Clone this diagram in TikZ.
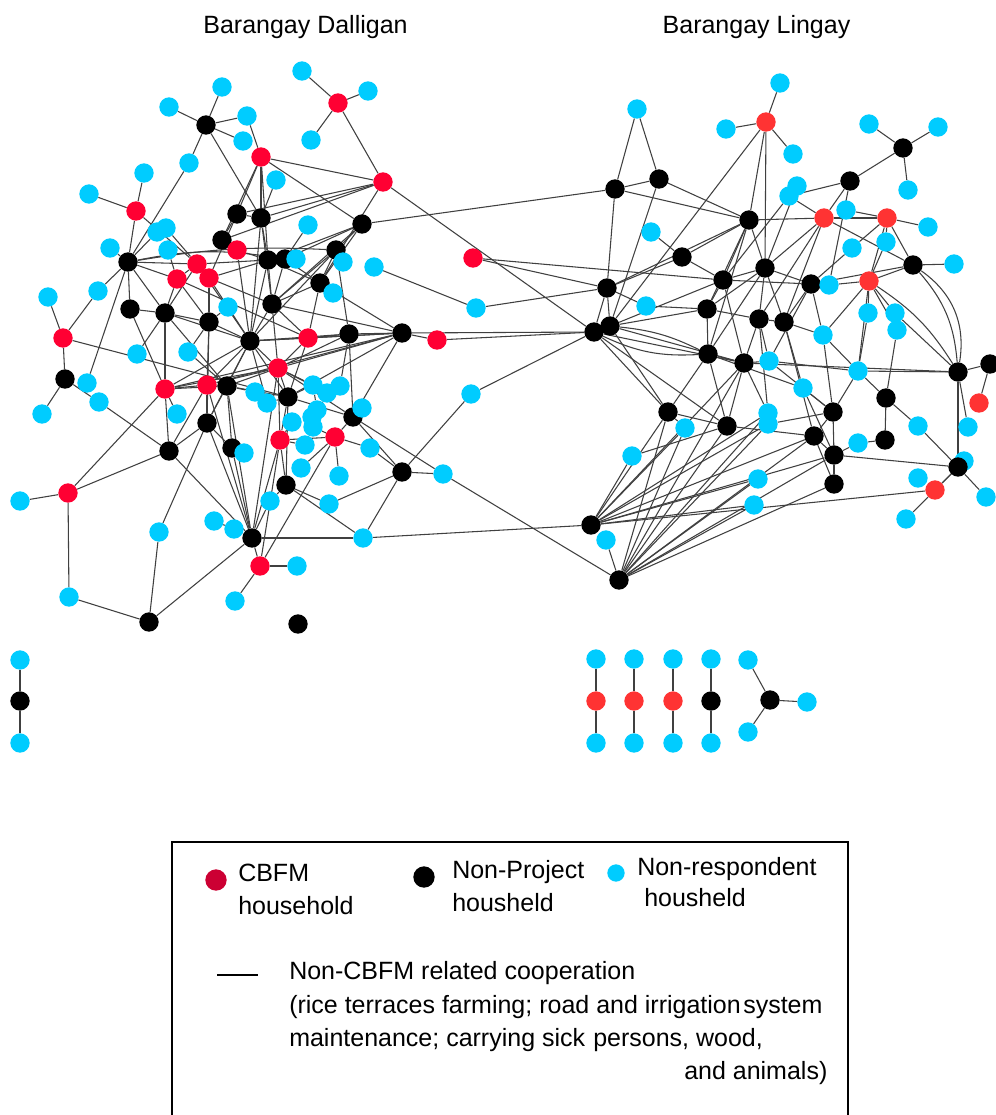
\documentclass[tikz,border=0pt]{standalone}
\usepackage{fontspec}
\setmainfont{Liberation Sans}
\usetikzlibrary{backgrounds}
\definecolor{cyn}{HTML}{00CCFF}
\definecolor{redA}{HTML}{FF0033}
\definecolor{redB}{HTML}{FF3333}
\definecolor{redL}{HTML}{CC0033}
\definecolor{edgegray}{HTML}{404040}
\tikzset{
  hh/.style={circle, minimum size=14.5pt, inner sep=0pt, draw=none},
  cy/.style={hh, fill=cyn},
  rd/.style={hh, fill=redA},
  rb/.style={hh, fill=redB},
  bk/.style={hh, fill=black},
  edge/.style={draw=edgegray, line width=0.8pt},
  lbl/.style={font=\fontsize{18.75pt}{22pt}\selectfont, inner sep=0pt, anchor=base west},
  ttl/.style={font=\fontsize{18.75pt}{22pt}\selectfont, inner sep=0pt, anchor=base}
}
\begin{document}
\begin{tikzpicture}[x=0.75pt,y=-0.75pt]
\useasboundingbox (0,0) rectangle (996,1115);

% titles
\node[ttl] (t1) at (305.5,33) {Barangay Dalligan};
\node[ttl] (t2) at (756.5,33) {Barangay Lingay};

% ---------- Dalligan households ----------
\node[cy] (L1) at (302,71) {};
\node[rd] (L2) at (338,103) {};
\node[cy] (L3) at (368,91) {};
\node[cy] (L4) at (311,140) {};
\node[cy] (L5) at (169,107) {};
\node[cy] (L6) at (222,87) {};
\node[bk] (L7) at (206,125) {};
\node[cy] (L8) at (247,116) {};
\node[cy] (L9) at (243,141) {};
\node[rd] (L10) at (261,157) {};
\node[cy] (L11) at (189,163) {};
\node[cy] (L12) at (144,173) {};
\node[cy] (L13) at (89,194) {};
\node[rd] (L14) at (136,211) {};
\node[cy] (L15) at (276,180) {};
\node[rd] (L16) at (383,182) {};
\node[bk] (L17) at (237,214) {};
\node[bk] (L18) at (261,218) {};
\node[cy] (L19) at (308,225) {};
\node[bk] (L20) at (362,224) {};
\node[cy] (L21) at (157,232) {};
\node[cy] (L22) at (166,228) {};
\node[bk] (L23) at (222,240) {};
\node[rd] (L24) at (237,250) {};
\node[cy] (L25) at (110,248) {};
\node[cy] (L26) at (168,250) {};
\node[bk] (L27) at (128,262) {};
\node[rd] (L28) at (197,264) {};
\node[rd] (L29) at (177,279) {};
\node[rd] (L30) at (209,278) {};
\node[bk] (L31) at (268,260) {};
\node[bk] (L32) at (285,259) {};
\node[cy] (L33) at (296,259) {};
\node[bk] (L34) at (336,250) {};
\node[cy] (L35) at (343,262) {};
\node[cy] (L36) at (374,267) {};
\node[bk] (L37) at (320,283) {};
\node[cy] (L38) at (333,293) {};
\node[cy] (L39) at (98,291) {};
\node[cy] (L40) at (48,297) {};
\node[bk] (L41) at (130,309) {};
\node[bk] (L42) at (165,313) {};
\node[cy] (L43) at (228,307) {};
\node[bk] (L44) at (272,304) {};
\node[bk] (L45) at (209,322) {};
\node[bk] (L46) at (250,341) {};
\node[rd] (L47) at (308,338) {};
\node[bk] (L48) at (349,334) {};
\node[bk] (L49) at (402,333) {};
\node[rd] (L50) at (437,340) {};
\node[rd] (L51) at (63,338) {};
\node[cy] (L52) at (137,354) {};
\node[cy] (L53) at (188,352) {};
\node[bk] (L54) at (65,379) {};
\node[cy] (L55) at (87,383) {};
\node[cy] (L56) at (99,402) {};
\node[rd] (L57) at (165,389) {};
\node[rd] (L58) at (207,385) {};
\node[bk] (L59) at (227,386) {};
\node[rd] (L60) at (278,368) {};
\node[cy] (L61) at (255,392) {};
\node[cy] (L62) at (267,403) {};
\node[bk] (L63) at (288,397) {};
\node[cy] (L64) at (313,385) {};
\node[cy] (L65) at (327,393) {};
\node[cy] (L66) at (340,386) {};
\node[cy] (L67) at (317,410) {};
\node[cy] (L68) at (312,417) {};
\node[bk] (L69) at (353,417) {};
\node[cy] (L70) at (362,408) {};
\node[cy] (L71) at (42,414) {};
\node[cy] (L72) at (177,414) {};
\node[bk] (L73) at (207,423) {};
\node[cy] (L74) at (292,422) {};
\node[cy] (L75) at (313,427) {};
\node[rd] (L76) at (280,440) {};
\node[rd] (L77) at (335,437) {};
\node[cy] (L78) at (305,445) {};
\node[bk] (L79) at (169,451) {};
\node[bk] (L80) at (232,448) {};
\node[cy] (L81) at (244,453) {};
\node[cy] (L82) at (301,468) {};
\node[cy] (L83) at (339,476) {};
\node[cy] (L84) at (370,448) {};
\node[bk] (L85) at (402,472) {};
\node[cy] (L86) at (443,474) {};
\node[bk] (L87) at (286,485) {};
\node[rd] (L88) at (68,493) {};
\node[cy] (L89) at (20,501) {};
\node[cy] (L90) at (270,501) {};
\node[cy] (L91) at (329,504) {};
\node[cy] (L92) at (214,521) {};
\node[cy] (L93) at (234,529) {};
\node[bk] (L94) at (252,538) {};
\node[cy] (L95) at (159,532) {};
\node[cy] (L96) at (363,538) {};
\node[rd] (L97) at (260,566) {};
\node[cy] (L98) at (297,566) {};
\node[cy] (L99) at (69,597) {};
\node[bk] (L100) at (149,622) {};
\node[cy] (L101) at (235,601) {};
\node[bk] (L102) at (298,624) {};

% ---------- between the two barangays ----------
\node[rd] (M1) at (473,258) {};
\node[cy] (M2) at (476,308) {};
\node[cy] (M3) at (471,394) {};

% ---------- Lingay households ----------
\node[cy] (R1) at (637,109) {};
\node[bk] (R2) at (615,189) {};
\node[bk] (R3) at (659,179) {};
\node[cy] (R4) at (651,232) {};
\node[bk] (R5) at (682,257) {};
\node[cy] (R6) at (780,83) {};
\node[rb] (R7) at (766,122) {};
\node[cy] (R8) at (726,129) {};
\node[cy] (R9) at (793,154) {};
\node[cy] (R10) at (869,124) {};
\node[cy] (R11) at (938,127) {};
\node[bk] (R12) at (903,148) {};
\node[cy] (R13) at (908,190) {};
\node[bk] (R14) at (850,181) {};
\node[cy] (R15) at (797,186) {};
\node[cy] (R16) at (789,196) {};
\node[bk] (R17) at (749,220) {};
\node[rb] (R18) at (824,218) {};
\node[cy] (R19) at (846,210) {};
\node[rb] (R20) at (887,218) {};
\node[cy] (R21) at (928,227) {};
\node[cy] (R22) at (852,248) {};
\node[cy] (R23) at (886,242) {};
\node[bk] (R24) at (913,265) {};
\node[cy] (R25) at (954,264) {};
\node[rb] (R26) at (869,281) {};
\node[bk] (R27) at (765,268) {};
\node[bk] (R28) at (723,280) {};
\node[bk] (R29) at (811,284) {};
\node[cy] (R30) at (829,285) {};
\node[cy] (R31) at (868,313) {};
\node[cy] (R32) at (895,313) {};
\node[cy] (R33) at (897,330) {};
\node[bk] (R34) at (607,288) {};
\node[cy] (R35) at (646,306) {};
\node[bk] (R36) at (707,309) {};
\node[bk] (R37) at (594,332) {};
\node[bk] (R38) at (610,326) {};
\node[bk] (R39) at (759,319) {};
\node[bk] (R40) at (784,322) {};
\node[cy] (R41) at (823,335) {};
\node[bk] (R42) at (708,354) {};
\node[bk] (R43) at (744,363) {};
\node[cy] (R44) at (769,361) {};
\node[cy] (R45) at (858,371) {};
\node[cy] (R46) at (803,388) {};
\node[bk] (R47) at (958,372) {};
\node[bk] (R48) at (990,364) {};
\node[rb] (R49) at (979,403) {};
\node[bk] (R50) at (886,398) {};
\node[bk] (R51) at (833,412) {};
\node[cy] (R52) at (768,413) {};
\node[cy] (R53) at (768,424) {};
\node[bk] (R54) at (727,426) {};
\node[bk] (R55) at (814,436) {};
\node[cy] (R56) at (918,426) {};
\node[cy] (R57) at (968,427) {};
\node[bk] (R58) at (885,440) {};
\node[cy] (R59) at (858,443) {};
\node[bk] (R60) at (668,412) {};
\node[cy] (R61) at (685,428) {};
\node[cy] (R62) at (632,456) {};
\node[bk] (R63) at (834,455) {};
\node[cy] (R64) at (964,461) {};
\node[bk] (R65) at (958,467) {};
\node[cy] (R66) at (758,479) {};
\node[cy] (R67) at (754,505) {};
\node[bk] (R68) at (834,484) {};
\node[cy] (R69) at (918,478) {};
\node[rb] (R70) at (935,490) {};
\node[cy] (R71) at (986,497) {};
\node[cy] (R72) at (906,519) {};
\node[bk] (R73) at (591,525) {};
\node[cy] (R74) at (606,540) {};
\node[bk] (R75) at (619,580) {};

% ---------- small separate groups ----------
\node[cy] (B1) at (20,660) {};
\node[bk] (B2) at (20,701) {};
\node[cy] (B3) at (20,743) {};
\node[cy] (C1) at (596,659) {};
\node[rb] (C2) at (596,701) {};
\node[cy] (C3) at (596,743) {};
\node[cy] (D1) at (634,659) {};
\node[rb] (D2) at (634,701) {};
\node[cy] (D3) at (634,743) {};
\node[cy] (E1) at (673,659) {};
\node[rb] (E2) at (673,701) {};
\node[cy] (E3) at (673,743) {};
\node[cy] (F1) at (711,659) {};
\node[bk] (F2) at (711,701) {};
\node[cy] (F3) at (711,743) {};
\node[cy] (G1) at (748,660) {};
\node[bk] (G2) at (770,700) {};
\node[cy] (G3) at (807,702) {};
\node[cy] (G4) at (748,732) {};

% ---------- cooperation ties ----------
\begin{scope}[on background layer]
\foreach \a/\b in {
L2/L1, L2/L3, L2/L4, L2/L16,
L7/L5, L7/L6, L7/L8, L7/L9, L7/L11, L7/L18,
L10/L8, L10/L16, L10/L20, L10/L17, L10/L18, L10/L23, L10/L31,
L15/L18, L14/L12, L14/L13, L14/L27, L14/L28, L11/L27,
L16/L17, L16/L18, L16/L23, L16/L37,
L20/L34, L20/L31, L20/L32, L20/L37, L20/L44,
L19/L32, L17/L23, L17/L18, L17/L30,
L18/L31, L18/L44, L18/L46,
L21/L27, L22/L28,
L24/L23, L24/L31, L24/L46,
L25/L27, L26/L29,
L27/L41, L27/L42, L27/L29, L27/L28, L27/L55, L27/L39,
L28/L29, L28/L30, L28/L42, L28/L46, L28/L31,
L29/L42, L29/L45, L29/L47,
L30/L45, L30/L44, L30/L46, L30/L31,
L31/L32, L31/L44, L31/L46, L31/L37,
L32/L33, L32/L37, L32/L44,
L34/L35, L34/L37, L34/L44, L34/L46, L34/L48,
L36/M2,
L37/L38, L37/L44, L37/L47, L37/L49,
L39/L51, L41/L42, L41/L57,
L42/L52, L42/L57, L42/L45, L42/L46, L42/L59,
L43/L45,
L44/L46, L44/L47, L44/L49, L44/L60,
L45/L46, L45/L58, L45/L73, L45/L53,
L46/L47, L46/L49, L46/L48, L46/L58, L46/L60, L46/L63, L46/L59, L46/L57, L46/L73,
L47/L48, L47/L49, L47/L63, L47/L60,
L48/L49, L48/L60, L48/L69, L48/L66,
L49/L50, L49/L57, L49/L58, L49/L60, L49/L63, L49/L69,
L51/L40, L51/L54, L51/L63,
L53/L59, L54/L71, L54/L56, L56/L79,
L57/L58, L57/L59, L57/L72, L57/L79, L57/L60, L57/L88,
L58/L59, L58/L60, L58/L73, L58/L94,
L59/L60, L59/L61, L59/L63, L59/L73, L59/L80, L59/L94,
L60/L63, L60/L64, L60/L76, L60/L69, L60/L94, L60/L65,
L62/L63, L62/L46,
L63/L64, L63/L76, L63/L87, L63/L69,
L64/L65, L65/L66, L64/L67, L67/L68, L69/L70, L69/L77, L69/L85, L69/L86,
L73/L80, L73/L94, L73/L95, L79/L73,
L76/L74, L76/L78, L76/L87, L76/L94, L76/L97, L76/L77,
L77/L75, L77/L83, L77/L84, L77/L97, L77/L82,
L79/L88, L79/L94, L79/L58,
L80/L81, L80/L94,
L85/L84, L85/L86, L85/L91, L85/L96, L85/M3,
L87/L90, L87/L91, L87/L96,
L88/L89, L88/L99,
L90/L94, L93/L94, L92/L93,
L94/L96, L94/L97, L94/L100,
L95/L100, L97/L98, L97/L101, L99/L100,
L16/R37, L20/R2, L49/R37, L50/R37, L86/R75, L96/R73,
M1/R34, M1/R28, M2/R34, M3/R37,
R1/R2, R1/R3, R2/R3, R2/R17, R3/R17, R2/R34, R3/R38, R4/R5, R5/R17, R5/R34, R5/R28,
R7/R6, R7/R8, R7/R9, R7/R38, R7/R17, R7/R27,
R12/R10, R12/R11, R12/R13, R12/R14,
R14/R16, R14/R18, R14/R30, R15/R27, R16/R18, R16/R28,
R17/R18, R17/R27, R17/R28, R17/R36, R17/R42, R17/R34,
R18/R20, R18/R24, R18/R27, R18/R39, R18/R40,
R19/R20, R20/R21, R20/R23, R20/R24, R20/R22, R20/R26,
R23/R26, R22/R29,
R24/R25, R24/R26, R24/R29,
R26/R30, R26/R31, R26/R32, R26/R33, R26/R41, R26/R45,
R27/R28, R27/R29, R27/R39, R27/R40, R27/R42, R27/R36,
R28/R36, R28/R29, R28/R38, R28/R43,
R29/R30, R29/R40, R29/R41, R29/R44,
R34/R37, R34/R38, R34/R35, R35/R36,
R36/R42, R36/R38, R36/R39,
R37/R38, R37/R43, R37/R60, R37/R54,
R38/R43, R38/R60,
R39/R40, R39/R43, R39/R44, R39/R52,
R40/R41, R40/R46, R40/R55,
R41/R45, R41/R51,
R42/R43, R42/R54, R42/R60, R42/R46,
R43/R44, R43/R47, R43/R54, R43/R52,
R44/R51, R44/R45,
R45/R47, R45/R51, R45/R50,
R46/R51, R46/R63,
R47/R48, R47/R65, R48/R49,
R50/R58, R50/R56,
R51/R55, R51/R63, R51/R53,
R54/R60, R54/R62, R54/R55,
R55/R63, R55/R68,
R56/R65, R58/R59, R59/R63, R60/R61,
R63/R65, R63/R68,
R65/R64, R65/R70, R65/R71,
R70/R72, R70/R64, R70/R73,
R73/R62, R73/R60, R73/R61, R73/R52, R73/R53, R73/R55, R73/R63, R73/R66, R73/R67, R73/R43,
R75/R74, R75/R60, R75/R61, R75/R54, R75/R52, R75/R53, R75/R55, R75/R63, R75/R68, R75/R66, R75/R67, R75/R43,
R57/R47, R31/R45, R33/R50, R32/R47,
B1/B2, B2/B3, C1/C2, C2/C3, D1/D2, D2/D3, E1/E2, E2/E3, F1/F2, F2/F3,
G1/G2, G2/G3, G2/G4}
  \draw[edge] (\a) -- (\b);
% curved ties
\draw[edge] (R24) to[bend left=18] (R47);
\draw[edge] (R24) to[bend left=32] (R47);
\draw[edge] (R26) to[bend left=12] (R47);
\draw[edge] (R37) to[bend right=14] (R42);
\draw[edge] (R38) to[bend left=10] (R42);
\draw[edge] (L27) to[bend left=10] (L32);
\draw[edge] (L27) to[bend left=6] (L34);
\end{scope}

% ---------- legend ----------
\draw[line width=1.5pt] (172,842) rectangle (848,1135);
\node[hh, fill=redL, minimum size=16pt] (k1) at (216,880) {};
\node[lbl] (k1a) at (238,881) {CBFM};
\node[lbl] (k1b) at (238,914) {household};
\node[hh, fill=black, minimum size=16pt] (k2) at (424,877) {};
\node[lbl] (k2a) at (452,878) {Non-Project};
\node[lbl] (k2b) at (452,911) {housheld};
\node[hh, fill=cyn, minimum size=13pt] (k3) at (616,873) {};
\node[lbl] (k3a) at (637,875) {Non-respondent};
\node[lbl] (k3b) at (644,906) {housheld};
\coordinate (k4s) at (217,975);
\coordinate (k4e) at (258,975);
\draw[line width=1.2pt] (k4s) -- (k4e);
\node[lbl] (k4a) at (289,979) {Non-CBFM related cooperation};
\node[lbl] (k4b) at (289,1013) {(rice terraces farming; road and irrigation};
\node[lbl] (k4c) at (743,1013) {system};
\node[lbl] (k4d) at (289,1046) {maintenance; carrying sick};
\node[lbl] (k4e2) at (593,1046) {persons, wood,};
\node[lbl] (k4f) at (684,1079) {and animals)};
\end{tikzpicture}
\end{document}
